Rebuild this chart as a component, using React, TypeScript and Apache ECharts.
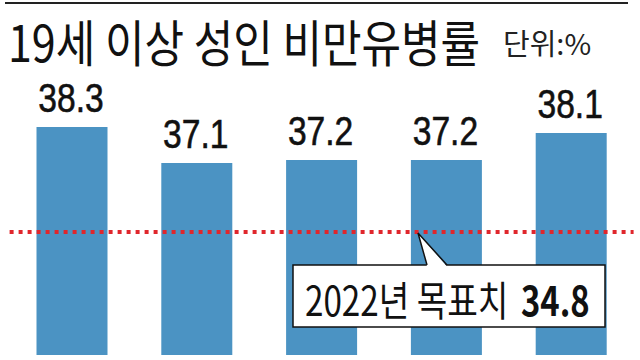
import React, { useEffect, useRef } from "react";
import * as echarts from "echarts";

const categories = ["1", "2", "3", "4", "5"];
const values = [38.3, 37.1, 37.2, 37.2, 38.1];
const targetValue = 34.8;
const titleText = "19세 이상 성인 비만유병률";
const unitText = "단위:%";
const targetLabel = "2022년 목표치";
const targetLabelValue = "34.8";

const KR = '"Noto Sans CJK KR", "Noto Sans", sans-serif';
const SANS = '"Liberation Sans", Arial, sans-serif';

export default function App() {
  const ref = useRef<HTMLDivElement>(null);
  useEffect(() => {
    if (!ref.current) return;
    const chart = echarts.init(ref.current, null, { renderer: "svg" });
    chart.setOption({
      animation: false,
      backgroundColor: "#ffffff",
      grid: { left: 9.6, right: 6.4, top: 100, bottom: 5 },
      xAxis: { type: "category", data: categories, show: false },
      yAxis: { type: "value", min: 30.7, max: 39.2, show: false },
      series: [
        {
          type: "bar",
          data: values,
          barWidth: 71,
          itemStyle: { color: "#4b93c3" },
          markLine: {
            silent: true,
            symbol: ["none", "none"],
            label: { show: false },
            lineStyle: { color: "#e0262c", type: [4, 5], width: 4 },
            data: [{ yAxis: targetValue }],
          },
        },
        {
          type: "custom",
          data: values.map((v, i) => [i, v]),
          z: 5,
          renderItem: (params: any, api: any) => {
            const pt = api.coord([api.value(0), api.value(1)]);
            return {
              type: "text",
              x: pt[0] - 1,
              y: pt[1] - 29,
              scaleX: 0.82,
              style: {
                text: Number(api.value(1)).toFixed(1),
                fontFamily: SANS,
                fontSize: 41,
                fill: "#111",
                stroke: "#111",
                lineWidth: 0.6,
                textAlign: "center",
                textVerticalAlign: "middle",
              },
            };
          },
        },
      ],
      graphic: [
        {
          type: "line",
          z: 100,
          shape: { x1: 5, y1: 3, x2: 628, y2: 3 },
          style: { stroke: "#222", lineWidth: 2 },
        },
        {
          type: "text",
          z: 100,
          x: 8,
          y: 40,
          scaleX: 0.86,
          style: {
            text: titleText,
            fontFamily: KR,
            fontSize: 50,
            fill: "#111",
            textVerticalAlign: "middle",
          },
        },
        {
          type: "text",
          z: 100,
          x: 503,
          y: 42,
          scaleX: 1.0,
          style: {
            text: unitText,
            fontFamily: KR,
            fontSize: 29,
            fill: "#222",
            textVerticalAlign: "middle",
          },
        },
        {
          type: "rect",
          z: 100,
          shape: { x: 293, y: 265, width: 312, height: 62 },
          style: { fill: "#fff", stroke: "#111", lineWidth: 1.5 },
        },
        {
          type: "polygon",
          z: 101,
          shape: { points: [[427, 266.5], [418, 233], [447, 266.5]] },
          style: { fill: "#fff", stroke: null },
        },
        {
          type: "polyline",
          z: 102,
          shape: { points: [[427, 265], [418, 233], [447, 265]] },
          style: { stroke: "#111", lineWidth: 1.5, fill: null },
        },
        {
          type: "text",
          z: 102,
          x: 305,
          y: 298,
          scaleX: 0.81,
          style: {
            text: targetLabel,
            fontFamily: KR,
            fontSize: 41,
            fill: "#111",
            textVerticalAlign: "middle",
          },
        },
        {
          type: "text",
          z: 102,
          x: 521,
          y: 298,
          scaleX: 0.8,
          style: {
            text: targetLabelValue,
            fontFamily: KR,
            fontSize: 41,
            fontWeight: "bold",
            fill: "#111",
            textVerticalAlign: "middle",
          },
        },
      ],
    });
    return () => chart.dispose();
  }, []);
  return <div ref={ref} style={{ width: 640, height: 360, position: "fixed", left: 0, top: 0 }} />;
}
